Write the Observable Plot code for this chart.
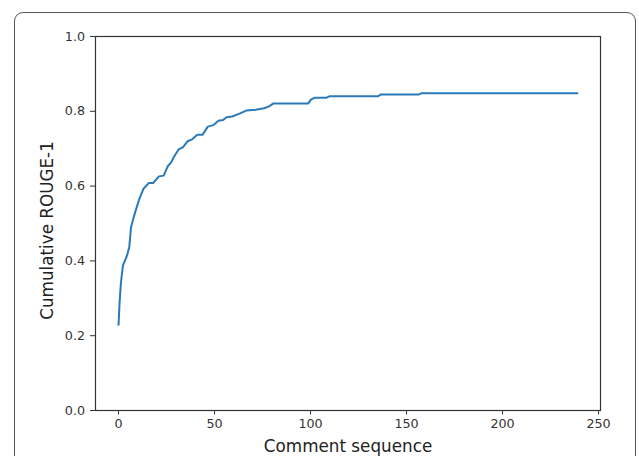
<!DOCTYPE html>
<html>
<head>
<meta charset="utf-8">
<script src="https://cdn.jsdelivr.net/npm/d3@7"></script>
<script src="https://cdn.jsdelivr.net/npm/@observablehq/plot@0.6"></script>
<style>
  html, body { margin: 0; padding: 0; background: #fff; overflow: hidden; width: 639px; height: 456px; }
  #wrap { position: relative; width: 639px; height: 456px; }
  #border { position: absolute; left: 14px; top: 12px; width: 622px; height: 470px; border: 1.2px solid #555; border-radius: 9px; box-sizing: border-box; }
  #chart { position: absolute; left: 0; top: 0; }
</style>
</head>
<body>
<div id="wrap"><div id="border"></div><div id="chart"></div></div>
<script>
const seq = [0, 0.5, 1.2, 2.3, 4.4, 5.6, 6.5, 7.9, 10.5, 13, 15.7, 18, 21, 23.5, 25.6, 27.5, 28.7, 31.3, 33.6, 36, 38.3, 41, 43.7, 46.5, 49.3, 52, 54.5, 56.3, 59.2, 62.7, 66.5, 71.4, 75.8, 78.4, 80.7, 98.8, 100.2, 102, 108, 109.8, 135, 136.7, 156.4, 157.6, 239];
const rouge = [0.229, 0.285, 0.339, 0.388, 0.414, 0.437, 0.49, 0.517, 0.561, 0.593, 0.608, 0.608, 0.626, 0.628, 0.653, 0.664, 0.677, 0.698, 0.704, 0.72, 0.725, 0.737, 0.737, 0.759, 0.763, 0.775, 0.777, 0.784, 0.786, 0.793, 0.802, 0.804, 0.808, 0.813, 0.821, 0.821, 0.831, 0.836, 0.836, 0.840, 0.840, 0.845, 0.845, 0.848, 0.848];
const xTicks = [0, 50, 100, 150, 200, 250];
const yTicks = [0, 0.2, 0.4, 0.6, 0.8, 1.0];
const xLabel = "Comment sequence";
const yLabel = "Cumulative ROUGE-1";

const data = seq.map((s, i) => ({seq: s, rouge: rouge[i]}));
const font = "DejaVu Sans, sans-serif";

const chart = Plot.plot({
  width: 639,
  height: 456,
  marginLeft: 95,
  marginRight: 39,
  marginTop: 36,
  marginBottom: 46,
  style: {fontFamily: font, background: "transparent", color: "#333"},
  x: {domain: [-12, 251], ticks: xTicks},
  y: {domain: [0, 1], ticks: yTicks},
  marks: [
    Plot.axisX({ticks: xTicks, tickSize: 4.5, tickPadding: 4, fontSize: 12.7, label: null, stroke: "#333", color: "#333"}),
    Plot.axisY({ticks: yTicks, tickSize: 5, tickPadding: 5.5, fontSize: 12.7, label: null, tickFormat: d3.format(".1f"), stroke: "#333", color: "#333"}),
    Plot.line(data, {x: "seq", y: "rouge", stroke: "#2a7ab9", strokeWidth: 2}),
    Plot.frame({stroke: "#333", strokeWidth: 1.2}),
    Plot.text([xLabel], {frameAnchor: "bottom", textAnchor: "middle", lineAnchor: "middle", dy: 36.5, fontSize: 16.8, fill: "#222"}),
    Plot.text([yLabel], {frameAnchor: "left", textAnchor: "middle", lineAnchor: "middle", dx: -48, dy: 7, rotate: -90, fontSize: 16.8, fill: "#222"})
  ]
});
document.getElementById("chart").appendChild(chart);
</script>
</body>
</html>
